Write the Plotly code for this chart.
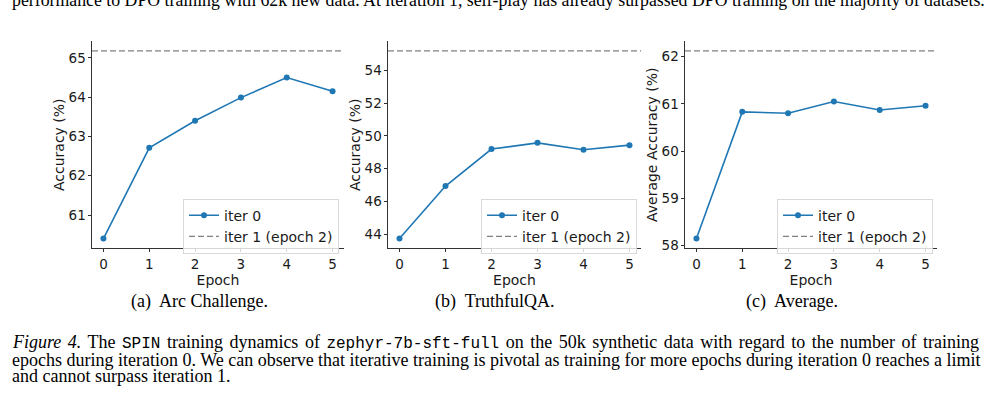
import plotly.graph_objects as go

epochs = [0, 1, 2, 3, 4, 5]

arc_iter0 = [60.40, 62.71, 63.40, 63.99, 64.50, 64.15]
arc_iter1 = 65.18

tqa_iter0 = [43.72, 46.93, 49.19, 49.57, 49.15, 49.43]
tqa_iter1 = 55.19

avg_iter0 = [58.15, 60.83, 60.80, 61.05, 60.87, 60.96]
avg_iter1 = 62.12

arc_ticks = [61, 62, 63, 64, 65]
tqa_ticks = [44, 46, 48, 50, 52, 54]
avg_ticks = [58, 59, 60, 61, 62]

panels = [
    ("a", arc_iter0, arc_iter1, arc_ticks, "Accuracy (%)", "(a)  Arc Challenge."),
    ("b", tqa_iter0, tqa_iter1, tqa_ticks, "Accuracy (%)", "(b)  TruthfulQA."),
    ("c", avg_iter0, avg_iter1, avg_ticks, "Average Accuracy (%)", "(c)  Average."),
]

W, H = 990, 415
# pixel boxes of the three plot areas (left, right, top, bottom)
boxes = [(92, 344, 42, 251), (388, 641, 42, 251), (685, 937, 42, 251)]
legend_boxes = [(183, 201), (481, 201), (777, 201)]
sub_x = [199, 495, 792]

BLUE = "#1f77b4"
GRAY = "#808080"
TICKFONT = dict(family="DejaVu Sans", size=13.5, color="#1a1a1a")
LABELFONT = dict(family="DejaVu Sans", size=14, color="#1a1a1a")
SERIF = "Liberation Serif"

fig = go.Figure()
layout = dict(
    width=W, height=H,
    margin=dict(l=0, r=0, t=0, b=0),
    paper_bgcolor="white", plot_bgcolor="white",
    showlegend=True,
    annotations=[], shapes=[],
)

for i, (key, vals, ref, ticks, ytitle, sub) in enumerate(panels):
    n = "" if i == 0 else str(i + 1)
    xa, ya = "x" + n, "y" + n
    leg = "legend" + n
    l, r, t, b = boxes[i]
    lo = min(vals)
    span = ref - lo
    fig.add_trace(go.Scatter(
        x=epochs, y=vals, xaxis=xa, yaxis=ya, mode="lines+markers",
        name="iter 0", legend=leg,
        line=dict(color=BLUE, width=1.6), marker=dict(color=BLUE, size=6),
    ))
    fig.add_trace(go.Scatter(
        x=[None], y=[None], xaxis=xa, yaxis=ya, mode="lines",
        name="iter 1 (epoch 2)", legend=leg,
        line=dict(color=GRAY, width=1.4, dash="6px,3px"),
    ))
    layout["shapes"].append(dict(
        type="line", xref=xa + " domain", yref=ya, x0=0, x1=1, y0=ref, y1=ref,
        line=dict(color=GRAY, width=1.4, dash="6px,3px"),
    ))
    axis_common = dict(
        showgrid=False, zeroline=False, showline=True, linecolor="#333333",
        linewidth=1, ticks="outside", ticklen=3.5, tickwidth=1,
        tickcolor="#333333", tickfont=TICKFONT, mirror=False,
    )
    layout["xaxis" + n] = dict(
        axis_common, domain=[l / W, r / W], anchor=ya,
        range=[-0.25, 5.25], tickvals=epochs,
        title=dict(text="Epoch", font=LABELFONT, standoff=2),
    )
    layout["yaxis" + n] = dict(
        axis_common, domain=[1 - b / H, 1 - t / H], anchor=xa,
        range=[lo - 0.05 * span, ref + 0.05 * span], tickvals=ticks,
        ticklabelstandoff=-1,
        title=dict(text=ytitle, font=LABELFONT, standoff=0),
    )
    lx, ly = legend_boxes[i]
    layout[leg] = dict(
        x=lx / W, y=1 - ly / H, xanchor="left", yanchor="top",
        xref="paper", yref="paper",
        bgcolor="rgba(255,255,255,0.8)", bordercolor="#d9d9d9", borderwidth=1,
        font=LABELFONT, tracegroupgap=0, itemwidth=30,
    )
    layout["annotations"].append(dict(
        text=sub, x=sub_x[i] / W, y=1 - 305 / H, xref="paper", yref="paper",
        showarrow=False, xanchor="center", yanchor="middle",
        font=dict(family=SERIF, size=18, color="black"),
    ))

MONO = "font-family:'Liberation Mono';font-size:16px"
top_line = ("performance to DPO training with 62k new data. At iteration 1, "
            "self-play has already surpassed DPO training on the majority of datasets.")
caption_lines = [
    "<span style=\"word-spacing:2px\"><i>Figure 4.</i> The <span style=\"" + MONO + "\">SPIN</span> "
    "training dynamics of <span style=\"" + MONO + "\">zephyr-7b-sft-full</span> on the 50k "
    "synthetic data with regard to the number of training</span>",
    "epochs during iteration 0. We can observe that iterative training is pivotal as "
    "training for more epochs during iteration 0 reaches a limit",
    "and cannot surpass iteration 1.",
]
caption_y = [347, 364, 381]

layout["annotations"].append(dict(
    text=top_line, x=10 / W, y=1 - 12 / H, xref="paper", yref="paper",
    showarrow=False, xanchor="left", yanchor="bottom",
    font=dict(family=SERIF, size=17.8, color="black"),
))
for line, cy in zip(caption_lines, caption_y):
    layout["annotations"].append(dict(
        text=line, x=10 / W, y=1 - cy / H, xref="paper", yref="paper",
        showarrow=False, xanchor="left", yanchor="middle",
        font=dict(family=SERIF, size=18, color="black"),
    ))

fig.update_layout(**layout)
fig.write_html("out.html", config={"displayModeBar": False},
               post_script="document.body.style.margin='0';")
